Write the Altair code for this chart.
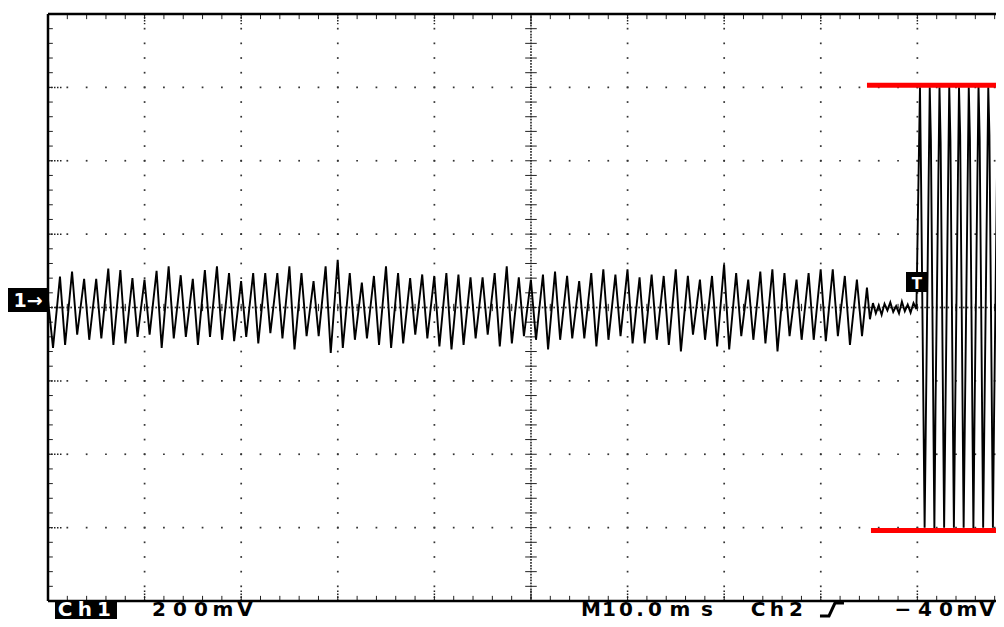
import altair as alt
import pandas as pd

# ---------------- data (units: divisions) ----------------
# Ch1, 200 mV/div, M 10.0 ms/div.  Low-level section: troughs and crests per cycle
low_bottoms = [-0.55, -0.51, -0.37, -0.44, -0.42, -0.51, -0.49, -0.40, -0.37, -0.55, -0.42, -0.40, -0.51, -0.40, -0.44, -0.46, -0.40,
               -0.49, -0.35, -0.42, -0.57, -0.39, -0.39, -0.62, -0.55, -0.44, -0.42, -0.51, -0.55, -0.49, -0.37, -0.42, -0.53, -0.57,
               -0.51, -0.42, -0.37, -0.53, -0.49, -0.39, -0.44, -0.57, -0.44, -0.42, -0.42, -0.53, -0.44, -0.39, -0.49, -0.49, -0.44,
               -0.51, -0.60, -0.37, -0.44, -0.53, -0.57, -0.39, -0.44, -0.49, -0.60, -0.39, -0.44, -0.44, -0.46, -0.39, -0.51, -0.39]
low_tops = [0.42, 0.49, 0.39, 0.39, 0.53, 0.51, 0.40, 0.38, 0.50, 0.56, 0.44, 0.39, 0.51, 0.56, 0.47, 0.36,
            0.47, 0.47, 0.47, 0.56, 0.47, 0.36, 0.56, 0.65, 0.47, 0.34, 0.43, 0.56, 0.47, 0.40, 0.45, 0.43, 0.47,
            0.45, 0.41, 0.41, 0.47, 0.56, 0.41, 0.38, 0.45, 0.49, 0.43, 0.36, 0.47, 0.52, 0.45, 0.52, 0.41, 0.45,
            0.43, 0.52, 0.43, 0.38, 0.43, 0.59, 0.47, 0.38, 0.49, 0.52, 0.47, 0.38, 0.47, 0.52, 0.52, 0.43, 0.38]
tail_values = [0.27, -0.16]
noise_values = [0.06, -0.08, 0.03, -0.10, 0.05, -0.04, 0.07, -0.06, 0.02, -0.08, 0.08, -0.05, 0.04, -0.07, 0.06, -0.02]
# large section after the trigger
big_top = [3.0, 3.0, 3.0, 3.02, 3.0, 3.0, 3.02, 3.0, 3.0]
big_upper = [1.67, 2.28, 2.24, 2.28, 2.35, 2.30, 2.30, 2.35, 2.35]
big_bottom = [-3.0, -3.02, -3.0, -3.0, -3.0, -3.02, -3.0, -3.0, -3.0]
big_lower = [-1.64, -1.35, -1.60, -1.55, -1.60, -1.45, -1.60, -1.50, -1.55]
cursor_levels = [3.03, -3.04]

labels = ["200mV", "M10.0ms", "Ch2", "\u221240mV"]

# ---------------- time base ----------------
XMAX = 9.814
period_low = 0.125
period_big = 0.101

pts = [(0.0, 0.10)]
for i, b in enumerate(low_bottoms):
    pts.append((0.052 + period_low * i, b))
    if i < len(low_tops):
        pts.append((0.124 + period_low * i, low_tops[i]))
pts.append((8.478, tail_values[0]))
pts.append((8.509, tail_values[1]))
for j, v in enumerate(noise_values):
    pts.append((8.54 + 0.03 * j, v))
for i in range(len(big_top)):
    t = 9.027 + period_big * i
    pts.append((t, big_top[i]))
    pts.append((t + 0.012, big_upper[i]))
    pts.append((t + 0.048, big_bottom[i]))
    pts.append((t + 0.06, big_lower[i]))
trace = pd.DataFrame(pts, columns=["x", "y"])
trace["o"] = range(len(trace))

# ---------------- graticule ----------------
dots = []
for gx in [1, 2, 3, 4, 6, 7, 8, 9]:
    for k in range(1, 40):
        dots.append((gx, -4 + 0.2 * k))
for gy in [-3, -2, -1, 1, 2, 3]:
    for k in range(1, 50):
        dots.append((0.2 * k, gy))
for k in range(-99, 100):
    dots.append((5, 0.04 * k))
for k in range(1, 246):
    dots.append((0.04 * k, 0))
dots = pd.DataFrame(dots, columns=["x", "y"])

ticks = []
for k in range(1, 40):
    y = -4 + 0.2 * k
    ticks.append((0, 0.05, y, y))
    ticks.append((4.94, 5.06, y, y))
for k in range(1, 50):
    x = 0.2 * k
    ticks.append((x, x, 4, 3.93))
    ticks.append((x, x, -4, -3.93))
    ticks.append((x, x, -0.05, 0.05))
ticks = pd.DataFrame(ticks, columns=["x", "x2", "y", "y2"])

major_ticks = []
for gx in range(1, 10):
    major_ticks.append((gx, gx, 4, 3.86))
    major_ticks.append((gx, gx, -4, -3.84))
for gy in [-3, -2, -1, 0, 1, 2, 3]:
    major_ticks.append((0, 0.15, gy, gy))
major_ticks = pd.DataFrame(major_ticks, columns=["x", "x2", "y", "y2"])

border = pd.DataFrame([
    (0, 0, -4, 4),
    (0, XMAX, 4, 4),
    (0, XMAX, -4, -4),
], columns=["x", "x2", "y", "y2"])


def px(p):
    return (p - 48) / 96.6


def py(p):
    return (307.5 - p) / 73.375


red = pd.DataFrame({"x": [px(867), px(871)], "x2": [XMAX, XMAX], "y": cursor_levels})

xs = alt.Scale(domain=[0, XMAX], nice=False, zero=False)
ys = alt.Scale(domain=[-4, 4], nice=False, zero=False)
X = alt.X("x:Q", scale=xs, axis=None)
Y = alt.Y("y:Q", scale=ys, axis=None)

layers = []
layers.append(alt.Chart(dots).mark_square(size=3, color="#333333", opacity=1).encode(x=X, y=Y))
layers.append(alt.Chart(ticks).mark_rule(color="#222222", strokeWidth=1).encode(x=X, x2="x2:Q", y=Y, y2="y2:Q"))
layers.append(alt.Chart(major_ticks).mark_rule(color="#222222", strokeWidth=1.5, strokeDash=[1.5, 1.5]).encode(x=X, x2="x2:Q", y=Y, y2="y2:Q"))
layers.append(alt.Chart(border).mark_rule(color="#000000", strokeWidth=2.5).encode(x=X, x2="x2:Q", y=Y, y2="y2:Q"))
layers.append(alt.Chart(trace).mark_line(color="#000000", strokeWidth=1.9, interpolate="linear").encode(x=X, y=Y, order="o:Q"))
layers.append(alt.Chart(red).mark_rule(color="#ff0000", strokeWidth=5).encode(x=X, x2="x2:Q", y=Y))

# markers: "1 ->" ground marker, trigger "T", and the "Ch1" box
boxes = pd.DataFrame([
    (px(8), px(48), py(288), py(312)),
    (px(906), px(928), py(272), py(292)),
    (px(55), px(117), py(602), py(625)),
], columns=["x", "x2", "y", "y2"])
layers.append(alt.Chart(boxes).mark_rect(color="#000000").encode(x=X, x2="x2:Q", y=Y, y2="y2:Q"))

white_txt = pd.DataFrame([
    (px(28), py(307), "1\u2192", 19),
    (px(917), py(289), "T", 15),
], columns=["x", "y", "t", "s"])
layers.append(alt.Chart(white_txt).mark_text(color="#ffffff", font="DejaVu Sans", fontWeight="bold",
                                             align="center", baseline="alphabetic").encode(
    x=X, y=Y, text="t:N", size=alt.Size("s:Q", scale=None, legend=None)))

# bottom status line, one glyph per cell (the scope font is widely spaced)
cells = []
for ch, cx in zip("Ch1", [65, 85, 104]):
    cells.append((px(cx), py(616), ch, "#ffffff"))
centres = [[159, 180, 201, 223, 245],
           [591, 609, 626, 640, 655, 680, 707],
           [758, 777, 796],
           [903, 925, 946, 967, 987]]
for lab, cs in zip(labels, centres):
    for ch, cx in zip(lab, cs):
        cells.append((px(cx), py(616), ch, "#000000"))
cells = pd.DataFrame(cells, columns=["x", "y", "t", "c"])
layers.append(alt.Chart(cells).mark_text(font="DejaVu Sans", fontSize=20, fontWeight="bold", align="center",
                                         baseline="alphabetic").encode(
    x=X, y=Y, text="t:N", color=alt.Color("c:N", scale=None, legend=None)))

# rising-edge trigger slope symbol
edge = pd.DataFrame({"x": [px(820), px(829), px(835), px(844)], "y": [py(616), py(616), py(603), py(603)]})
layers.append(alt.Chart(edge).mark_line(color="#000000", strokeWidth=3).encode(x=X, y=Y))

chart = alt.layer(*layers).properties(
    width=948, height=587,
    padding={"left": 40, "top": 6, "right": 0, "bottom": 18},
    autosize=alt.AutoSizeParams(type="none"),
).configure_view(stroke=None)

chart.save("out.html", embed_options={"renderer": "svg", "actions": False})
